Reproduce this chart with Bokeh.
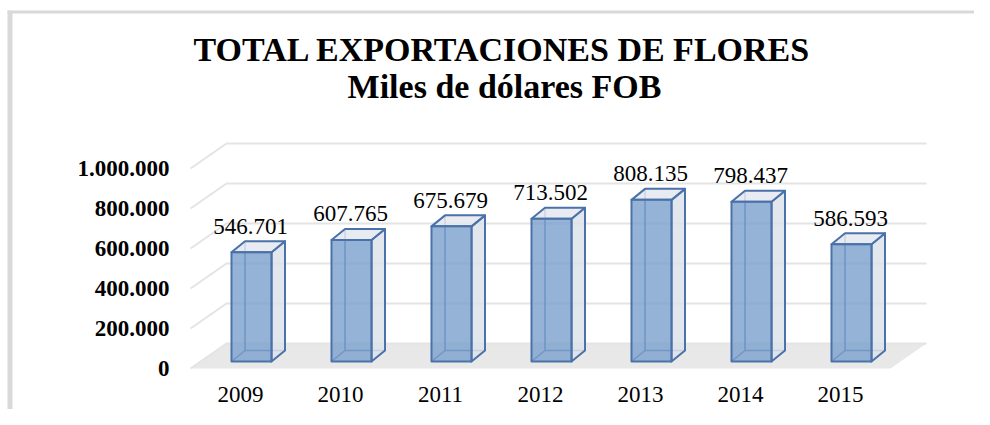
from bokeh.plotting import figure
from bokeh.models import ColumnDataSource, Range1d
from bokeh.core.properties import value
from bokeh.embed import file_html
from bokeh.resources import INLINE

# ---- data ----
years = ["2009", "2010", "2011", "2012", "2013", "2014", "2015"]
exports = [546701, 607765, 675679, 713502, 808135, 798437, 586593]
y_ticks = [0, 200000, 400000, 600000, 800000, 1000000]
y_tick_labels = ["0", "200.000", "400.000", "600.000", "800.000", "1.000.000"]
title_lines = ["TOTAL EXPORTACIONES DE  FLORES", "Miles de dólares FOB"]

# ---- style / geometry constants (pixel based) ----
W, H = 974, 409
PX_X = 0.01        # category units per pixel
PX_Y = 5000.0      # value units per pixel
FONT = "Liberation Serif"
EDGE = "#4a72a8"
TXT = 9 * PX_Y     # text baseline correction

# perspective offsets
FLOOR_DX, FLOOR_DY = 36 * PX_X, 25 * PX_Y
BAR_DX, BAR_DY = 13.5 * PX_X, 11 * PX_Y
BAR_BASE = 7 * PX_Y
BAR_L, BAR_R = -9 * PX_X, 31 * PX_X

n = len(years)
xs = list(range(n))

x_lo = -240 * PX_X
x_hi = x_lo + W * PX_X
y_hi = 368 * PX_Y
y_lo = y_hi - H * PX_Y

p = figure(width=W, height=H, output_backend="svg", toolbar_location=None,
           x_axis_type=None, y_axis_type=None,
           x_range=Range1d(x_lo, x_hi), y_range=Range1d(y_lo, y_hi),
           min_border=0, outline_line_color=None,
           background_fill_color="white", border_fill_color="white")
p.xgrid.visible = False
p.ygrid.visible = False

# outer gray frame (left and top)
p.quad(left=[x_lo + 7 * PX_X], right=[x_lo + 12 * PX_X], bottom=[y_lo],
       top=[y_hi - 10 * PX_Y], fill_color="#d9d9d9", line_color=None)
p.quad(left=[x_lo + 7 * PX_X], right=[x_hi], bottom=[y_hi - 13 * PX_Y],
       top=[y_hi - 10 * PX_Y], fill_color="#d9d9d9", line_color=None)

# floor
f_left, f_right = -0.5, n - 0.5
p.patch([f_left, f_right, f_right + FLOOR_DX, f_left + FLOOR_DX],
        [0, 0, FLOOR_DY, FLOOR_DY], fill_color="#e8e8e8", line_color=None)

# gridlines on back wall + left side
gx, gy = [], []
for t in y_ticks:
    gx.append([f_left, f_left + FLOOR_DX, f_right + FLOOR_DX])
    gy.append([t, t + FLOOR_DY, t + FLOOR_DY])
p.multi_line(gx, gy, line_color="#e4e4e4", line_width=2)

# bars
hx, hy = [], []
side_x, side_y, top_x, top_y = [], [], [], []
for i, v in zip(xs, exports):
    x0, x1 = i + BAR_L, i + BAR_R
    y0, y1 = BAR_BASE, BAR_BASE + v
    hx.append([x0, x0 + BAR_DX, x0 + BAR_DX]); hy.append([y0, y0 + BAR_DY, y1 + BAR_DY])
    hx.append([x0 + BAR_DX, x1 + BAR_DX]); hy.append([y0 + BAR_DY, y0 + BAR_DY])
    side_x.append([x1, x1 + BAR_DX, x1 + BAR_DX, x1])
    side_y.append([y0, y0 + BAR_DY, y1 + BAR_DY, y1])
    top_x.append([x0, x1, x1 + BAR_DX, x0 + BAR_DX])
    top_y.append([y1, y1, y1 + BAR_DY, y1 + BAR_DY])

p.multi_line(hx, hy, line_color=EDGE, line_width=1.6)
p.patches(side_x, side_y, fill_color="#dde2ea", fill_alpha=0.85,
          line_color=EDGE, line_width=2, line_join="round")
p.patches(top_x, top_y, fill_color="#e4e8ef", fill_alpha=0.85,
          line_color=EDGE, line_width=2, line_join="round")

src = ColumnDataSource(dict(
    left=[i + BAR_L for i in xs], right=[i + BAR_R for i in xs],
    bottom=[BAR_BASE] * n, top=[BAR_BASE + v for v in exports],
    lx=[i + 10 * PX_X for i in xs],
    ly=[v + BAR_BASE + BAR_DY + 6 * PX_Y + TXT for v in exports],
    label=[f"{v:,}".replace(",", ".") for v in exports],
    cx=xs, cy=[-35 * PX_Y + TXT] * n, year=years,
))
p.quad(left="left", right="right", bottom="bottom", top="top", source=src,
       fill_color="#7aa0cd", fill_alpha=0.8, line_color=EDGE, line_width=2,
       line_join="round")

# value labels
p.text(x="lx", y="ly", text="label", source=src, text_align="center",
       text_baseline="alphabetic", text_font=value(FONT), text_font_size="23px",
       text_color="black")

# category labels
p.text(x="cx", y="cy", text="year", source=src, text_align="center",
       text_baseline="alphabetic", text_font=value(FONT), text_font_size="23px",
       text_color="black")

# y tick labels
p.text(x=[-0.71] * len(y_ticks), y=y_ticks, text=y_tick_labels, text_align="right",
       text_baseline="alphabetic", y_offset=0, text_font=value(FONT),
       text_font_size="23px", text_font_style="bold", text_color="black")

# title
p.text(x=[(506 - 240) * PX_X, (504 - 240) * PX_X],
       y=[(368 - 58) * PX_Y + TXT, (368 - 95) * PX_Y + TXT],
       text=title_lines, text_align="center", text_baseline="alphabetic",
       text_font=value(FONT), text_font_size="34px", text_font_style="bold",
       text_color="black")

open("out.html", "w").write(file_html(p, INLINE))
